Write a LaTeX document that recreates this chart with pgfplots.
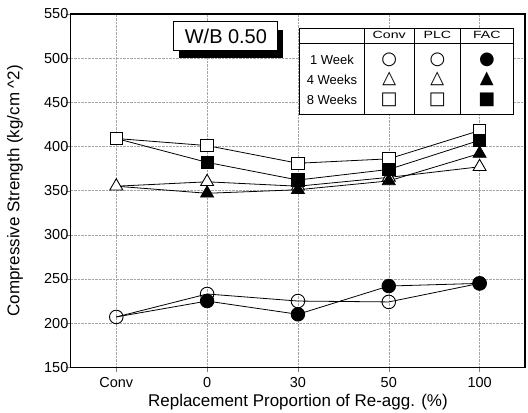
\documentclass[border=0pt]{standalone}
\usepackage{graphicx}
\usepackage{pgfplots}
\pgfplotsset{compat=1.18}
\usepackage{fontspec}
\setmainfont{Liberation Sans}
\newfontfamily\symf{DejaVu Sans}
\begin{document}
\begin{tikzpicture}
\begin{axis}[
  name=ax,
  width=455pt, height=354pt, scale only axis,
  xmin=-0.5, xmax=4.5, ymin=150, ymax=550,
  xtick={0,1,2,3,4}, xticklabels={Conv,0,30,50,100},
  ytick={150,200,...,550},
  tick align=outside, tick pos=left,
  major tick length=5pt,
  grid=major, grid style={densely dotted, gray!70, line width=0.5pt},
  axis line style={line width=1.2pt},
  /pgf/number format/assume math mode=true,
  ticklabel style={font=\fontsize{14.5}{16}\selectfont},
  xticklabel style={yshift=-2pt},
  yticklabel style={xshift=6pt},
  xlabel={Replacement Proportion of Re-agg. (\%)},
  ylabel={Compressive Strength (kg/cm \^{}2)},
  label style={font=\fontsize{17}{19}\selectfont},
  xlabel style={at={([yshift=-35pt]axis description cs:0.5,0)}, anchor=center},
  ylabel style={at={([xshift=-56pt]axis description cs:0,0.5)}, anchor=center},
  clip=false,
]
% PLC series (open markers), starting at Conv
\addplot[black, line width=0.8pt, mark=o, mark size=6.8pt, mark options={fill=white, line width=0.9pt, solid}]
  coordinates {(0,207) (1,233) (2,225) (3,224) (4,245)};
\addplot[black, line width=0.8pt, mark=triangle*, mark size=7.5pt, mark options={fill=white, line width=0.9pt, solid}]
  coordinates {(0,355) (1,360) (2,355) (3,365) (4,377)};
\addplot[black, line width=0.8pt, mark=square*, mark size=6.2pt, mark options={fill=white, line width=0.9pt, solid}]
  coordinates {(0,409) (1,401) (2,381) (3,386) (4,418)};
% FAC series (filled markers), starting at Conv
\addplot[black, line width=0.8pt, mark=*, mark size=6.8pt, mark indices={2,3,4,5}, mark options={fill=black}]
  coordinates {(0,207) (1,225) (2,210) (3,242) (4,245)};
\addplot[black, line width=0.8pt, mark=triangle*, mark size=7.5pt, mark indices={2,3,4,5}, mark options={fill=black}]
  coordinates {(0,355) (1,347) (2,351) (3,361) (4,392)};
\addplot[black, line width=0.8pt, mark=square*, mark size=6.2pt, mark indices={2,3,4,5}, mark options={fill=black}]
  coordinates {(0,409) (1,382) (2,362) (3,374) (4,407)};
% W/B box
\fill[black] (axis cs:0.69,532) rectangle (axis cs:1.84,500);
\draw[black, line width=1pt, fill=white] (axis cs:0.634,541) rectangle (axis cs:1.78,509)
  node[midway, font=\fontsize{20}{22}\selectfont] {W/B 0.50};
% legend table
\draw[black, line width=1pt, fill=white] (axis cs:2.02,534) rectangle (axis cs:4.37,436);
\draw[black, line width=0.8pt] (axis cs:2.02,517) -- (axis cs:4.37,517);
\draw[black, line width=0.8pt] (axis cs:2.73,534) -- (axis cs:2.73,436);
\draw[black, line width=0.8pt] (axis cs:3.28,534) -- (axis cs:3.28,436);
\draw[black, line width=0.8pt] (axis cs:3.79,534) -- (axis cs:3.79,436);
\node[font=\fontsize{10.5}{12}\selectfont] at (axis cs:3.005,526) {\scalebox{1.35}[1]{Conv}};
\node[font=\fontsize{10.5}{12}\selectfont] at (axis cs:3.535,526) {\scalebox{1.35}[1]{PLC}};
\node[font=\fontsize{10.5}{12}\selectfont] at (axis cs:4.08,526) {\scalebox{1.35}[1]{FAC}};
\node[font=\fontsize{13}{15}\selectfont] at (axis cs:2.375,498) {1 Week};
\node[font=\fontsize{13}{15}\selectfont] at (axis cs:2.375,475) {4 Weeks};
\node[font=\fontsize{13}{15}\selectfont] at (axis cs:2.375,453) {8 Weeks};
\node[font=\symf\fontsize{18}{18}\selectfont] at (axis cs:3.005,498.5) {○};
\node[font=\symf\fontsize{18}{18}\selectfont] at (axis cs:3.005,476) {△};
\node[font=\symf\fontsize{18}{18}\selectfont] at (axis cs:3.005,453) {□};
\node[font=\symf\fontsize{18}{18}\selectfont] at (axis cs:3.535,498.5) {○};
\node[font=\symf\fontsize{18}{18}\selectfont] at (axis cs:3.535,476) {△};
\node[font=\symf\fontsize{18}{18}\selectfont] at (axis cs:3.535,453) {□};
\node[font=\symf\fontsize{18}{18}\selectfont] at (axis cs:4.08,498.5) {●};
\node[font=\symf\fontsize{18}{18}\selectfont] at (axis cs:4.08,476) {▲};
\node[font=\symf\fontsize{18}{18}\selectfont] at (axis cs:4.08,453) {■};
\end{axis}
\pgfresetboundingbox
\path ([shift={(-71pt,-45pt)}]ax.south west) rectangle ([shift={(3pt,14pt)}]ax.north east);
\end{tikzpicture}
\end{document}
